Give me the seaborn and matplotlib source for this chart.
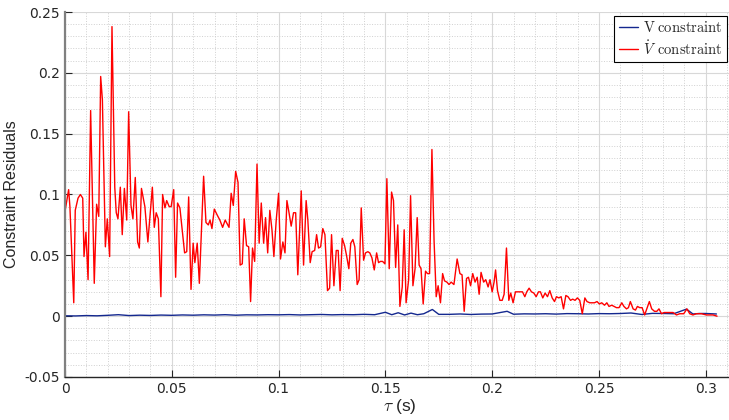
import numpy as np
import matplotlib
matplotlib.use("Agg")
import matplotlib.pyplot as plt
from matplotlib.ticker import MultipleLocator, FormatStrFormatter
import seaborn as sns

# V-dot constraint residual (red)
tau_vdot = [
    0.0000, 0.0017, 0.0023, 0.0041, 0.0048, 0.0061, 0.0072, 0.0083, 0.0089, 0.0098,
    0.0108, 0.0120, 0.0137, 0.0148, 0.0158, 0.0167, 0.0175, 0.0189, 0.0198, 0.0209,
    0.0220, 0.0233, 0.0240, 0.0248, 0.0259, 0.0268, 0.0278, 0.0289, 0.0298, 0.0309,
    0.0318, 0.0329, 0.0340, 0.0348, 0.0358, 0.0374, 0.0388, 0.0409, 0.0418, 0.0427,
    0.0437, 0.0449, 0.0457, 0.0468, 0.0476, 0.0488, 0.0497, 0.0509, 0.0518, 0.0527,
    0.0538, 0.0560, 0.0570, 0.0579, 0.0590, 0.0600, 0.0608, 0.0619, 0.0629, 0.0649,
    0.0660, 0.0671, 0.0679, 0.0688, 0.0699, 0.0713, 0.0725, 0.0738, 0.0750, 0.0768,
    0.0778, 0.0788, 0.0799, 0.0810, 0.0820, 0.0830, 0.0839, 0.0850, 0.0860, 0.0869,
    0.0878, 0.0888, 0.0899, 0.0909, 0.0919, 0.0930, 0.0939, 0.0949, 0.0959, 0.0969,
    0.0978, 0.0989, 0.1000, 0.1009, 0.1020, 0.1030, 0.1039, 0.1048, 0.1059, 0.1070,
    0.1080, 0.1090, 0.1106, 0.1117, 0.1129, 0.1137, 0.1148, 0.1157, 0.1169, 0.1178,
    0.1187, 0.1197, 0.1207, 0.1217, 0.1229, 0.1239, 0.1248, 0.1259, 0.1270, 0.1279,
    0.1288, 0.1298, 0.1309, 0.1318, 0.1329, 0.1338, 0.1348, 0.1357, 0.1368, 0.1377,
    0.1387, 0.1398, 0.1407, 0.1418, 0.1427, 0.1437, 0.1448, 0.1459, 0.1468, 0.1477,
    0.1487, 0.1498, 0.1507, 0.1518, 0.1529, 0.1538, 0.1548, 0.1558, 0.1568, 0.1579,
    0.1588, 0.1597, 0.1609, 0.1618, 0.1629, 0.1639, 0.1649, 0.1658, 0.1667, 0.1677,
    0.1688, 0.1697, 0.1707, 0.1718, 0.1728, 0.1738, 0.1747, 0.1758, 0.1768, 0.1777,
    0.1788, 0.1798, 0.1808, 0.1821, 0.1836, 0.1849, 0.1859, 0.1869, 0.1880, 0.1889,
    0.1899, 0.1909, 0.1920, 0.1930, 0.1939, 0.1948, 0.1960, 0.1970, 0.1981, 0.1990,
    0.2000, 0.2009, 0.2016, 0.2025, 0.2036, 0.2047, 0.2056, 0.2067, 0.2078, 0.2087,
    0.2098, 0.2109, 0.2120, 0.2131, 0.2142, 0.2153, 0.2162, 0.2173, 0.2184, 0.2195,
    0.2206, 0.2217, 0.2226, 0.2237, 0.2248, 0.2259, 0.2270, 0.2281, 0.2292, 0.2301,
    0.2312, 0.2323, 0.2334, 0.2345, 0.2355, 0.2367, 0.2377, 0.2388, 0.2399, 0.2410,
    0.2422, 0.2434, 0.2444, 0.2457, 0.2468, 0.2479, 0.2491, 0.2502, 0.2513, 0.2526,
    0.2537, 0.2547, 0.2560, 0.2571, 0.2582, 0.2594, 0.2607, 0.2617, 0.2629, 0.2638,
    0.2647, 0.2660, 0.2671, 0.2680, 0.2691, 0.2702, 0.2714, 0.2724, 0.2736, 0.2747,
    0.2760, 0.2771, 0.2781, 0.2793, 0.2805, 0.2819, 0.2831, 0.2847, 0.2863, 0.2878,
    0.2897, 0.2912, 0.2925, 0.2940, 0.2956, 0.2980, 0.3003, 0.3034, 0.3053,
]
res_vdot = [
    0.086, 0.104, 0.090, 0.011, 0.087, 0.097, 0.100, 0.097, 0.049, 0.069,
    0.030, 0.169, 0.027, 0.092, 0.082, 0.197, 0.178, 0.057, 0.080, 0.049,
    0.238, 0.106, 0.085, 0.080, 0.106, 0.067, 0.105, 0.079, 0.168, 0.091,
    0.080, 0.114, 0.061, 0.056, 0.105, 0.090, 0.061, 0.106, 0.073, 0.085,
    0.080, 0.016, 0.100, 0.089, 0.095, 0.090, 0.090, 0.104, 0.032, 0.093,
    0.089, 0.052, 0.053, 0.098, 0.022, 0.060, 0.044, 0.060, 0.027, 0.115,
    0.077, 0.075, 0.079, 0.072, 0.088, 0.083, 0.079, 0.073, 0.079, 0.073,
    0.101, 0.091, 0.119, 0.110, 0.042, 0.043, 0.080, 0.058, 0.057, 0.012,
    0.056, 0.045, 0.125, 0.060, 0.093, 0.060, 0.081, 0.052, 0.087, 0.071,
    0.049, 0.079, 0.101, 0.047, 0.061, 0.052, 0.095, 0.086, 0.074, 0.085,
    0.085, 0.034, 0.103, 0.042, 0.095, 0.079, 0.044, 0.053, 0.054, 0.067,
    0.056, 0.057, 0.072, 0.067, 0.021, 0.023, 0.067, 0.025, 0.054, 0.054,
    0.021, 0.064, 0.058, 0.050, 0.039, 0.060, 0.063, 0.057, 0.026, 0.030,
    0.089, 0.046, 0.052, 0.053, 0.052, 0.048, 0.038, 0.052, 0.044, 0.045,
    0.045, 0.043, 0.113, 0.039, 0.102, 0.095, 0.040, 0.075, 0.008, 0.024,
    0.071, 0.011, 0.030, 0.099, 0.025, 0.039, 0.081, 0.042, 0.039, 0.010,
    0.037, 0.035, 0.035, 0.137, 0.062, 0.016, 0.025, 0.011, 0.035, 0.029,
    0.028, 0.026, 0.028, 0.026, 0.047, 0.035, 0.034, 0.004, 0.031, 0.032,
    0.025, 0.035, 0.028, 0.032, 0.018, 0.036, 0.028, 0.030, 0.024, 0.030,
    0.020, 0.028, 0.038, 0.021, 0.013, 0.013, 0.018, 0.056, 0.013, 0.019,
    0.011, 0.020, 0.020, 0.020, 0.020, 0.016, 0.020, 0.023, 0.020, 0.019,
    0.016, 0.020, 0.020, 0.015, 0.019, 0.016, 0.021, 0.015, 0.012, 0.016,
    0.015, 0.016, 0.006, 0.017, 0.016, 0.013, 0.014, 0.013, 0.015, 0.013,
    0.002, 0.015, 0.012, 0.011, 0.011, 0.011, 0.012, 0.010, 0.011, 0.009,
    0.011, 0.008, 0.009, 0.008, 0.007, 0.007, 0.011, 0.008, 0.006, 0.007,
    0.012, 0.006, 0.005, 0.008, 0.007, 0.007, 0.001, 0.006, 0.012, 0.006,
    0.004, 0.004, 0.006, 0.002, 0.003, 0.003, 0.003, 0.003, 0.001, 0.002,
    0.002, 0.006, 0.002, 0.001, 0.002, 0.002, 0.001, 0.001, 0.000,
]

# V constraint residual (blue)
tau_v = [
    0.000, 0.005, 0.010, 0.015, 0.020, 0.025, 0.030, 0.035, 0.040, 0.045,
    0.050, 0.055, 0.060, 0.065, 0.070, 0.075, 0.080, 0.085, 0.090, 0.095,
    0.100, 0.105, 0.110, 0.115, 0.120, 0.125, 0.130, 0.135, 0.140, 0.145,
    0.150, 0.153, 0.156, 0.159, 0.162, 0.165, 0.168, 0.172, 0.175, 0.180,
    0.185, 0.190, 0.195, 0.200, 0.207, 0.210, 0.215, 0.220, 0.225, 0.230,
    0.235, 0.240, 0.245, 0.250, 0.255, 0.260, 0.265, 0.270, 0.275, 0.280,
    0.285, 0.291, 0.294, 0.297, 0.300, 0.305,
]
res_v = [
    0.0003, 0.0002, 0.0005, 0.0003, 0.0007, 0.0012, 0.0005, 0.0008, 0.0006, 0.0009,
    0.0007, 0.0010, 0.0008, 0.0011, 0.0009, 0.0012, 0.0008, 0.0011, 0.0010, 0.0012,
    0.0011, 0.0013, 0.0010, 0.0012, 0.0014, 0.0011, 0.0013, 0.0012, 0.0015, 0.0012,
    0.0032, 0.0012, 0.0028, 0.0010, 0.0025, 0.0012, 0.0020, 0.0055, 0.0015, 0.0015,
    0.0018, 0.0014, 0.0017, 0.0018, 0.0040, 0.0016, 0.0019, 0.0018, 0.0020, 0.0017,
    0.0021, 0.0020, 0.0018, 0.0021, 0.0020, 0.0022, 0.0026, 0.0014, 0.0023, 0.0022,
    0.0020, 0.0058, 0.0018, 0.0022, 0.0022, 0.0018,
]

sns.set_theme(style="ticks")
plt.rcParams["mathtext.fontset"] = "cm"
plt.rcParams["font.family"] = ["Liberation Sans Narrow", "DejaVu Sans"]

fig = plt.figure(figsize=(7.29, 4.2), dpi=100)
ax = fig.add_axes([65 / 729, 43 / 420, 670 / 729, 365 / 420])

sns.lineplot(x=tau_v, y=res_v, ax=ax, color="#14288f", linewidth=1.0,
             estimator=None, sort=False, label=r"$\mathrm{V}\;\mathrm{constraint}$")
sns.lineplot(x=tau_vdot, y=res_vdot, ax=ax, color="#ff0000", linewidth=1.0,
             estimator=None, sort=False, label=r"$\dot{V}\;\,\mathrm{constraint}$")

ax.set_xlim(0, 0.3137)
ax.set_ylim(-0.05, 0.25)
ax.xaxis.set_major_locator(MultipleLocator(0.05))
ax.yaxis.set_major_locator(MultipleLocator(0.05))
ax.xaxis.set_minor_locator(MultipleLocator(0.01))
ax.yaxis.set_minor_locator(MultipleLocator(0.01))
ax.xaxis.set_major_formatter(FormatStrFormatter("%g"))
ax.yaxis.set_major_formatter(plt.FuncFormatter(lambda v, p: f"{round(v, 3):g}"))

ax.grid(which="major", color="#d8d8d8", linewidth=0.8, linestyle="-")
ax.grid(which="minor", color="#d0d0d0", linewidth=0.7, linestyle=":")
ax.set_axisbelow(True)

for s in ["top", "right"]:
    ax.spines[s].set_visible(False)
ax.spines["bottom"].set_color("#262626")
ax.spines["bottom"].set_linewidth(1.0)
ax.spines["left"].set_color("#808080")
ax.spines["left"].set_linewidth(1.6)

ax.tick_params(which="major", direction="in", length=5, width=0.8,
               colors="#262626", labelsize=10)
ax.tick_params(which="minor", length=0)

ax.set_ylabel("Constraint Residuals", family=["Liberation Sans", "DejaVu Sans"],
              fontsize=11.5, color="#262626", labelpad=4)
ax.set_xlabel(r"$\tau$ (s)", family=["Liberation Sans", "DejaVu Sans"],
              fontsize=12.5, color="#262626", labelpad=1)

# legend sits in the top right corner, kept fully inside the figure
leg = ax.legend(loc="upper right", bbox_to_anchor=((727 - 65) / 670, (377 - 16) / 365),
                fontsize=10.5, frameon=True, fancybox=False, edgecolor="black",
                framealpha=1, handlelength=1.3, handletextpad=0.35, borderpad=0.3,
                labelspacing=0.25, borderaxespad=0.0)
leg.get_frame().set_linewidth(0.8)

fig.savefig("out.png", dpi=100)
